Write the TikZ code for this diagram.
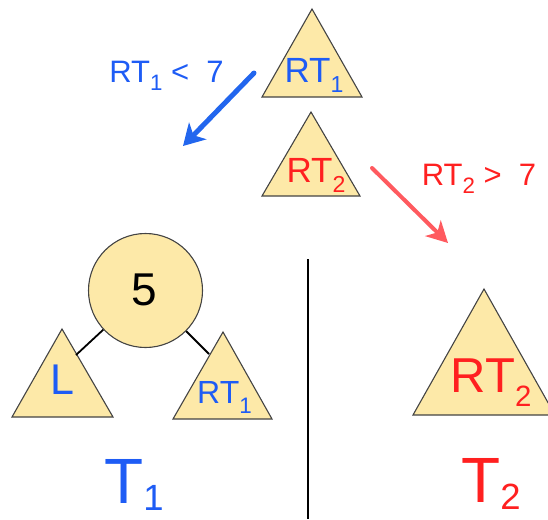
\documentclass[tikz,border=0pt]{standalone}
\usepackage{fontspec}
\setmainfont{Liberation Sans}
\usetikzlibrary{arrows.meta}
\definecolor{tfill}{HTML}{FDE9A8}
\definecolor{tedge}{HTML}{444444}
\definecolor{tblue}{HTML}{1E5CF5}
\definecolor{tred}{HTML}{FF2020}
\definecolor{ablue}{HTML}{2266EE}
\definecolor{ared}{HTML}{FF5A5F}
\newcommand\subt[3]{\raisebox{-#1}{\scalebox{#2}{#3}}}
\begin{document}
\begin{tikzpicture}[x=1pt,y=-1pt,
  tri/.style={fill=tfill,draw=tedge,line width=1.1pt,line join=miter},
  txt/.style={inner sep=0pt,anchor=base},
  edge/.style={draw=black,line width=1.8pt},
  sep/.style={draw=black,line width=2.5pt}]
\path[use as bounding box,clip] (0,0) rectangle (548,519);
% triangles
\draw[tri] (312,9) -- (362,97) -- (262,97) -- cycle;
\draw[tri] (311,112) -- (360,196) -- (262,196) -- cycle;
\draw[tri] (62,329) -- (113,417) -- (12,417) -- cycle;
\draw[tri] (223,332) -- (272,419) -- (173,419) -- cycle;
\draw[tri] (484,289) -- (555,415) -- (413,415) -- cycle;
% circle
\node[circle,fill=tfill,draw=tedge,line width=1.1pt,minimum size=114pt,inner sep=0pt] (root) at (145.5,290.5) {};
\node[txt] (five) at (144,305) {\fontsize{46}{50}\selectfont 5};
% connectors
\coordinate (Ltop) at (76,355);
\coordinate (Rtop) at (209,354);
\draw[edge] (root) -- (Ltop);
\draw[edge] (root) -- (Rtop);
% texts in triangles
\node[txt,text=tblue] (rt1a) at (314,82) {\fontsize{35}{40}\selectfont RT\subt{0.29em}{0.66}{1}};
\node[txt,text=tred] (rt2a) at (316,182) {\fontsize{35}{40}\selectfont RT\subt{0.29em}{0.66}{2}};
\node[txt,text=tblue] (lsub) at (62.5,394) {\fontsize{43}{48}\selectfont L};
\node[txt,text=tblue] (rt1b) at (224.5,403) {\fontsize{32}{36}\selectfont RT\subt{0.33em}{0.7}{1}};
\node[txt,text=tred] (rt2b) at (491,392) {\fontsize{49}{54}\selectfont RT\subt{0.3em}{0.6}{2}};
% labels
\node[txt,text=tblue] (lab1) at (166.5,82) {\fontsize{31}{34}\selectfont RT\subt{0.26em}{0.72}{1} <\ \ 7};
\node[txt,text=tred] (lab2) at (479,185) {\fontsize{31}{34}\selectfont RT\subt{0.26em}{0.72}{2} >\ \ 7};
\node[txt,text=tblue] (t1) at (134,503) {\fontsize{64}{70}\selectfont T\subt{0.12em}{0.57}{1}};
\node[txt,text=tred] (t2) at (491,502) {\fontsize{64}{70}\selectfont T\subt{0.12em}{0.57}{2}};
% arrows
\coordinate (bs) at (254,73);
\coordinate (be) at (183,146);
\coordinate (rs) at (372,168);
\coordinate (re) at (448,243);
\draw[ablue,line width=5pt,line cap=round,-{Stealth[length=21pt,width=24pt,inset=6pt]}] (bs) -- (be);
\draw[ared,line width=4pt,line cap=round,-{Stealth[length=21pt,width=22pt,inset=6pt]}] (rs) -- (re);
% separator
\coordinate (st) at (308,259);
\coordinate (sb) at (308,519);
\draw[sep] (st) -- (sb);
\end{tikzpicture}
\end{document}
